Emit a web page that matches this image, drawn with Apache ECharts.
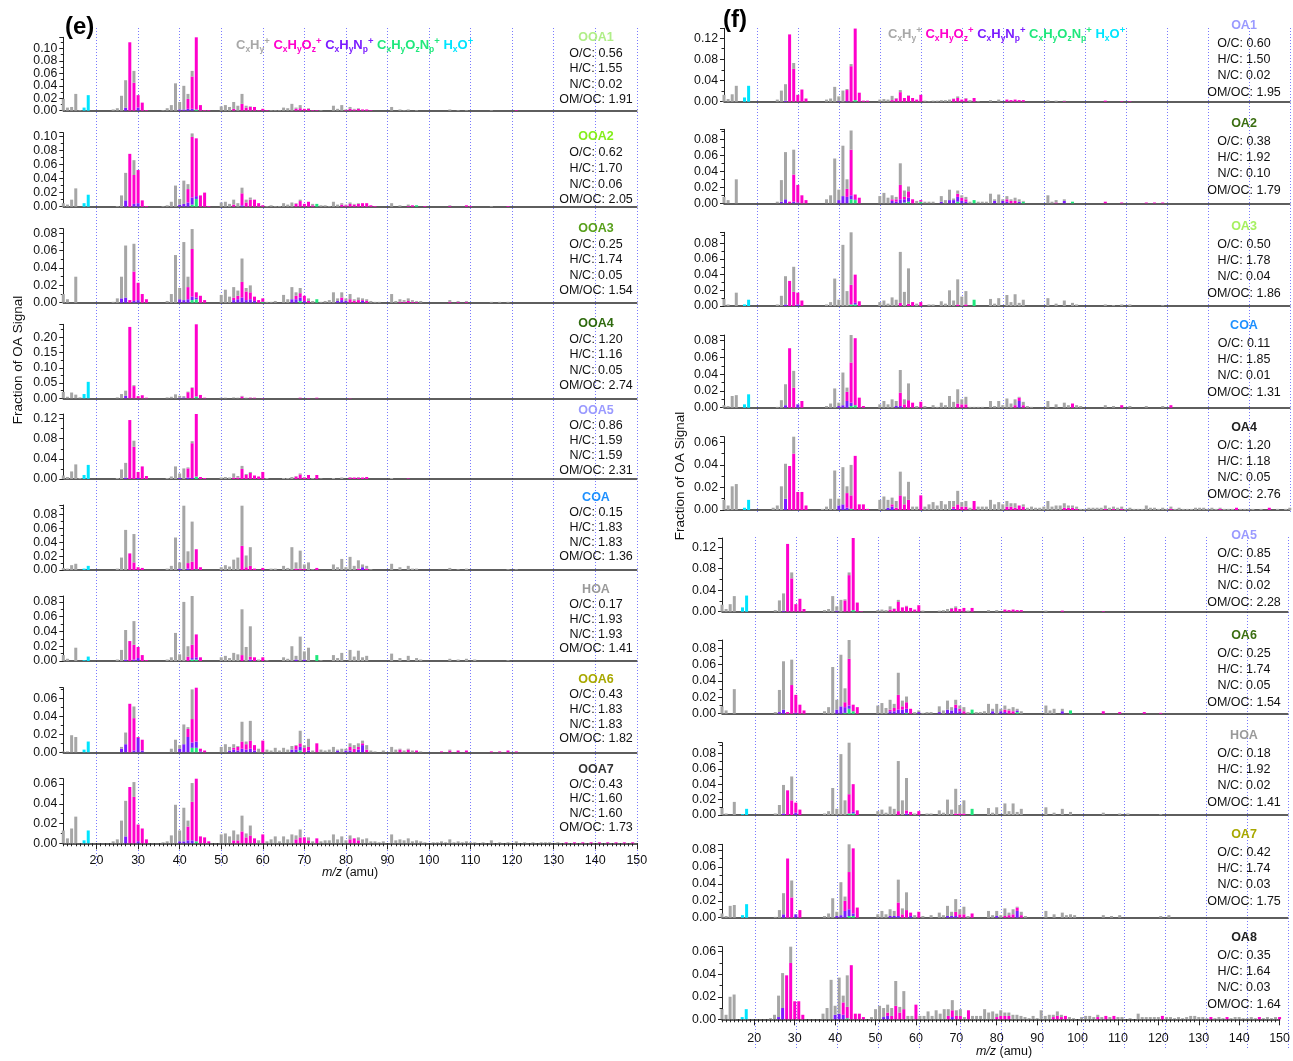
<!DOCTYPE html>
<html>
<head>
<meta charset="utf-8">
<title>HR-AMS factor mass spectra</title>
<script src="https://cdn.jsdelivr.net/npm/echarts@6.0.0/dist/echarts.min.js"></script>
<style>
  html, body { margin: 0; padding: 0; background: #ffffff; }
  #chart { width: 1293px; height: 1061px; }
</style>
</head>
<body>
<div id="chart"></div>
<script>
// ---------------------------------------------------------------------------
// Mass spectra of the PMF factors, one stacked bar per m/z.
// Row layout: [m/z, CxHy+, CxHyOz+, CxHyNp+, CxHyOzNp+, HxO+]  (missing = 0)
// ---------------------------------------------------------------------------
const MZ_MIN = 12;
const MZ_MAX = 150;
const xTickLabels = [20, 30, 40, 50, 60, 70, 80, 90, 100, 110, 120, 130, 140, 150];

// ---- panel (e) ----
const OOA1 = [[12,.019],[13,.005],[14,.006],[15,.027],[16,.001],[17,0,0,0,0,.005],[18,0,0,0,0,.025],
  [24,.002],[25,.004],[26,.024],[27,.044,0,.005],[28,0,.110],[29,.019,.045],[30,0,.020,.005],[31,0,.013],[32,0,.001],
  [36,.001],[37,.004],[38,.009],[39,.044],[40,.012,0,.002],[41,.038,0,.002],[42,.008,.016,.003],[43,.009,.052,.003],[44,0,.117,0,.002],[45,0,.009],[46,0,.001],[47,0,.001],
  [50,.007],[51,.009],[52,.006],[53,.011,.003],[54,.008],[55,.016,.011],[56,.003,.005],[57,.001,.006],[58,0,.006],[59,0,.001],[60,0,.003],[61,0,.001],[62,.001],[63,.001],[64,.001],
  [65,.005],[66,.004],[67,.011],[68,.002,.003],[69,.005,.004],[70,0,.003],[71,.001,.003],[72,0,.001],[73,0,.001],[74,.001],
  [77,.008],[78,.003],[79,.009],[80,.001,.001],[81,.003,.003],[82,.001,.002],[83,.001,.003],[84,0,.002],[85,0,.002],[86,0,.001],
  [91,.006],[93,.002],[94,.001],[95,.002],[97,.001],[105,.002],[107,.001],[109,.001],[115,.001],[121,0,.001]];

const OOA2 = [[12,.005],[13,.003],[14,.010],[15,.026],[17,0,0,0,0,.005],[18,0,0,0,0,.017],
  [25,.001],[26,.016],[27,.039,0,.009],[28,0,.075],[29,.021,.041,.004],[30,0,.047,.005],[31,0,.009],[32,0,.001],
  [36,.001],[37,.002],[38,.007],[39,.030],[40,.008,0,.003],[41,.033,0,.004],[42,.007,.019,.006],[43,.005,.086,.010,.003],[44,0,.082,.004,.011],[45,0,.016],[46,0,.020],[47,0,.001],
  [50,.006],[51,.007],[52,.004],[53,.007,.003],[54,.005],[55,.008,.017,.002],[56,.004,.006],[57,.003,.010],[58,0,.010],[59,0,.005],[60,0,.002],[61,.001],[62,.002],[63,.001],[64,.001],
  [65,.005],[66,.003],[67,.006],[68,.001,.004],[69,.002,.008],[70,0,.004],[71,0,.007],[72,.002,.002],[73,0,0,0,.004],[74,.002],[75,.002],[76,.001],
  [77,.007],[78,.003],[79,.002,.003],[80,.001,.002],[81,.002,.004],[82,.001,.003],[83,.001,.004],[84,0,.005],[85,0,.005],[86,0,.002],[87,0,.001],
  [91,.005],[93,.002],[95,.002,.001],[96,0,.002],[97,0,0,0,.002],[99,0,.001],[105,.001,.001],[109,0,.002],[110,0,.001],[115,.001],[119,0,.001]];

const OOA3 = [[12,.010],[13,.004],[15,.030],
  [24,.001],[25,.005],[26,.025,0,.005],[27,.060,0,.006],[28,0,.003],[29,.032,.034,.002],[30,0,.020,.003],[31,0,.010],[32,0,.004],
  [37,.002],[38,.010],[39,.055],[40,.013,0,.004],[41,.067,0,.003],[42,.012,.014,.004],[43,.023,.055,.004,.003],[44,0,.006,.002,.004],[45,0,.008],[46,0,.003],
  [50,.009],[51,.015],[52,.007],[53,.012,.003,.003],[54,.006,.004,.004],[55,.027,.018,.006],[56,.004,.010,.003],[57,.008,.008,.004],[58,0,.005,.002],[59,0,.003],[60,0,.004,0,.001],[61,.001],[62,.001],[63,.002],
  [65,.009],[66,.004],[67,.014,0,.004],[68,.004,.004,.004],[69,.006,.005,.004,.002],[70,0,.006,.002],[71,.003,.002],[72,.002],[73,0,0,0,.004],[74,.001],[75,.002],[76,.003],
  [77,.012],[78,.003,0,.002],[79,.006,.003,.003],[80,.003,0,.002],[81,.006,.004],[82,.002,.002],[83,.003,.003],[84,.002,.001,.002],[85,.002,.002],[86,.002],[87,.001],[88,.001],
  [91,.010],[92,.002],[93,.003,.001],[94,.002,.001],[95,.003,.002],[96,.002,.001],[97,.001,.001],[98,.002],[105,.002,.001],[107,.001,.001],[109,.001,.001],[115,.001],[117,.001],[119,.001]];

const OOA4 = [[12,.021],[13,.005],[14,.019],[15,.012],[16,.003],[17,0,0,0,0,.014],[18,0,0,0,0,.054],
  [25,.003],[26,.014],[27,.017,0,.008],[28,0,.234],[29,.003,.040],[30,0,.007],[31,0,.010],[32,0,.002],
  [37,.003],[38,.005],[39,.013],[40,.006,0,.002],[41,.004,0,.003],[42,.002,.020],[43,.002,.034],[44,0,.237,0,.006],[45,0,.011],[46,0,.002],
  [50,.002],[51,.002],[53,.003],[54,.002],[55,.002,.006],[56,.002],[57,.001,.002],[58,0,.002],[60,0,.001],
  [69,0,.002],[71,0,.001],[73,0,.002],[81,0,.001]];

const OOA5 = [[12,.007],[13,.004],[14,.015],[15,.029],[16,.002],[17,0,0,0,0,.008],[18,0,0,0,0,.028],
  [25,.002],[26,.019],[27,.029,0,.003],[28,0,.117],[29,.012,.064],[30,0,.012,.002],[31,0,.025],[32,0,.006],
  [37,.002],[38,.005],[39,.025],[40,.009,0,.002],[41,.021],[42,.002,.018,.003],[43,.004,.069,.002],[44,0,.125,0,.005],[45,0,.004],[46,0,.002],
  [50,.003],[51,.004],[52,.003],[53,.008,.003],[54,.003,.003],[55,.006,.020],[56,.002,.008],[57,.002,.012],[58,0,.007],[59,0,.005],[60,0,.014],[61,.002],
  [65,.002],[66,.002],[67,.004],[68,.001,.005],[69,.002,.009],[70,.001,.003],[71,0,.008],[72,.002],[73,0,.008],[74,.001],
  [77,.002],[79,.003],[81,.001,.003],[82,0,.003],[83,.001,.003],[84,0,.003],[85,0,.004],[91,.002],[95,0,.001]];

const COA_E = [[12,.003],[13,.002],[14,.007],[15,.009],[17,0,0,0,0,.002],[18,0,0,0,0,.006],
  [25,.002],[26,.018],[27,.058],[28,0,.024],[29,.041,.011],[30,0,.004],[31,0,.003],
  [37,.002],[38,.006],[39,.047],[40,.009,0,.002],[41,.093],[42,.017,.008,.002],[43,.058,.012],[44,0,.029,0,.001],[45,0,.004],
  [50,.004],[51,.007],[52,.005],[53,.015],[54,.018],[55,.058,.035],[56,.017,.004],[57,.027,.006],[58,0,.002],[60,0,.003],
  [62,.002],[63,.002],[65,.006],[66,.003],[67,.033],[68,.009,.002],[69,.026,.002],[70,.006,.002],[71,.011],[72,.001],[73,0,.003],
  [77,.008],[78,.004],[79,.016],[80,.004],[81,.019],[82,.006],[83,.012,.002],[84,.004,0,.004],[85,.004,.002],[86,.001],
  [91,.009],[93,.004],[95,.006],[96,.002],[97,.002],[105,.003],[107,.001],[109,.002],[119,.001],[121,.001]];

const HOA_E = [[12,.008],[13,.003],[15,.018],[17,0,0,0,0,.001],[18,0,0,0,0,.006],
  [25,.002],[26,.015],[27,.040,0,.002],[28,0,.027],[29,.032,.020,.002],[30,0,.015,.004],[31,0,.008],[32,0,.001],
  [37,.002],[38,.005],[39,.038],[40,.009],[41,.080],[42,.014,.006],[43,.066,.018,.002,.002],[44,0,.031,.003,.002],[45,0,.005],
  [50,.005],[51,.007],[52,.004],[53,.011],[54,.009],[55,.062,.008],[56,.019],[57,.041,.004,.002],[58,0,.005],[59,.002],[60,0,.005],[61,.001],
  [65,.005],[66,.003],[67,.020],[68,.005,0,.002],[69,.033],[70,.011,0,.002],[71,.018],[73,0,0,0,.008],[74,.001],
  [77,.008],[78,.004],[79,.011],[81,.015],[82,.006],[83,.014],[84,.005],[85,.007],
  [91,.010],[93,.004],[95,.007],[97,.004],[98,.002],[105,.003],[107,.002],[109,.003],[111,.002],[119,.001]];

const OOA6 = [[12,.001],[13,.001],[14,.019],[15,.017],[17,0,0,0,0,.003],[18,0,0,0,0,.012],
  [26,.002,0,.004],[27,.013,0,.009],[28,0,.054],[29,.013,.036,.002],[30,0,.001,.016],[31,0,.012,.002],
  [38,.004],[39,.014],[40,.004,0,.004],[41,.022,0,.009],[42,.002,.009,.017],[43,.033,.026,.006,.005],[44,0,.060,.007,.005],[45,0,.003,.001],[46,0,.002],
  [50,.006],[51,.009],[52,.004,0,.002],[53,.004,.002,.003],[54,.001,.004,.002],[55,.022,.008,.004],[56,.003,.006,.003],[57,.022,.009,.004],[58,0,.006,.002],[59,.004],[60,0,.013],
  [61,.003],[62,.002],[63,.005],[64,.002],[65,.005],[66,.003],[67,.004,0,.003],[68,.001,.004,.003],[69,.014,.004,.004,.002],[70,.003,.005],[71,.009,.004,.002],[72,.002],[73,0,.010],[74,.003],[75,.002],[76,.003],
  [77,.006],[78,.001,0,.002],[79,.004],[80,.002,0,.002],[81,.004,.004,.002],[82,.004,.004],[83,.004,.003,.003],[84,.003,.002,.008],[85,.005,.003],[86,.002],[87,.001],[89,.002],
  [91,.006],[92,.003],[93,.001,.003],[94,.002],[95,.001,.003],[96,.002],[97,0,.002],[98,.001],[103,0,.001],[105,.001,.002],[107,0,.002],[109,0,.002],[115,0,.001],[117,0,.001],[119,0,.002],[121,0,.001]];

const OOA7 = [[12,.013],[13,.005],[14,.015],[15,.027],[17,0,0,0,0,.003],[18,0,0,0,0,.013],
  [24,.002],[25,.004],[26,.023],[27,.036,0,.007],[28,0,.057],[29,.015,.047],[30,0,.017,.002],[31,0,.015],[32,0,.004],
  [36,.001],[37,.002],[38,.008],[39,.039],[40,.011,0,.002],[41,.034,0,.002],[42,.006,.014,.003],[43,.019,.039,.003],[44,0,.064,0,.002],[45,0,.007],[46,0,.006],[47,0,.002],
  [50,.009],[51,.010],[52,.007],[53,.010,.003],[54,.006,.003],[55,.016,.012],[56,.004,.006],[57,.010,.008],[58,0,.005],[59,.003],[60,0,.009],
  [61,.002],[62,.004],[63,.007],[64,.002],[65,.007],[66,.004],[67,.009],[68,.004,.004],[69,.008,.006],[70,0,.006],[71,.003,.003],[72,.002],[73,0,.005],[74,.002],[75,.003],[76,.003],
  [77,.009],[78,.004],[79,.007],[80,.003],[81,.004,.004],[82,0,.005],[83,.003,.003],[84,.004],[85,.005],[86,.002],[87,.002],[88,.001],[89,.002],
  [91,.009],[92,.003],[93,.004],[94,.003],[95,.005],[96,.002],[97,.003],[98,.002],[99,.001],[101,.001],[102,.001],[103,.002],[104,.001],[105,.004],[106,.001],[107,.002],[108,.001],[109,.002],[110,.001],[111,.001],[113,.001],
  [115,.003],[117,.001],[119,.001],[121,.002],[123,.001],[125,.001],[127,.001],[128,.001],[129,.001],[131,.001],[133,0,.001],[135,0,.001],[137,0,.001],[139,0,.001],[141,0,.001],[143,0,.001],[145,0,.001],[147,0,.001],[149,0,.001]];

// ---- panel (f) ----
const OA1 = [[12,.013],[13,.005],[14,.014],[15,.030],[17,0,0,0,0,.008],[18,0,0,0,0,.030],
  [25,.004],[26,.021],[27,.031,0,.002],[28,0,.127],[29,.011,.062],[30,0,.013],[31,0,.023],[32,0,.006],
  [37,.004],[38,.006],[39,.028],[40,.009,0,.001],[41,.021],[42,.002,.021,.001],[43,.004,.067],[44,0,.135,0,.003],[45,0,.017],[46,0,.002],[47,0,.002],
  [50,.004],[51,.005],[52,.004],[53,.008,.003],[54,.001,.006],[55,.004,.018],[56,0,.007],[57,.001,.011],[58,0,.007],[59,0,.004],[60,0,.013],[61,.002],[62,.001],[63,.002],[64,.002],
  [65,.003],[66,.003],[67,.004],[68,.001,.005],[69,.003,.007],[70,0,.004],[71,.001,.006],[72,.003],[73,0,.007],[74,.001],
  [77,.003],[79,.004],[81,0,.004],[82,0,.003],[83,0,.004],[84,0,.003],[85,0,.003],[91,.003],[93,.002],[95,.001,.001],[105,0,.002],[109,0,.001],[111,0,.001]];

const OA2 = [[12,.008],[13,.004],[15,.030],
  [25,.002],[26,.027,0,.002],[27,.059,0,.005],[28,0,.002],[29,.031,.034,.002],[30,0,.022,.001],[31,0,.010],[32,0,.004],
  [37,.005],[38,.010],[39,.056],[40,.013,0,.004],[41,.063,0,.009],[42,.012,.010,.008],[43,.024,.057,.005,.005],[44,0,.006,.001,.004],[45,0,.007],
  [50,.009],[51,.013],[52,.007],[53,.005,.002,.003],[54,.003,.003,.002],[55,.027,.018,.005],[56,.008,.003,.004,.001],[57,.006,.008,.005,.002],[58,0,.005],[59,.003],[60,0,.002,0,.002],
  [61,.002],[62,.002],[63,.002],[65,.007,0,.002],[66,.004],[67,.013,0,.004],[68,.002,0,.004],[69,.004,.004,.006,.002],[70,.003,.004,.003],[71,.003,.003,.002],[72,.002],[73,0,0,0,.004],[74,.002],[75,.002],[76,.002],
  [77,.012],[78,.002,0,.003],[79,.011],[80,.002,0,.003],[81,.004,.003,.002],[82,.002,.003],[83,.004,.003],[84,.003,0,.002],[85,.001,0,0,.002],
  [91,.010],[92,.002],[93,.003,.001],[95,.002,0,.003],[97,0,0,0,.002],[105,0,.002],[109,0,.001],[115,0,.001],[117,0,.001],[119,0,.001]];

const OA3 = [[12,.009],[13,.002],[15,.017],[17,0,0,0,0,.002],[18,0,0,0,0,.008],
  [25,.002],[26,.013],[27,.036,0,.002],[28,0,.032],[29,.032,.018],[30,0,.015,.002],[31,0,.007],
  [37,.002],[38,.005],[39,.035],[40,.008],[41,.078],[42,.019],[43,.067,.025,0,.002],[44,0,.036,.002,.002],[45,0,.006],
  [50,.005],[51,.007],[52,.003],[53,.011],[54,.008],[55,.065,.004],[56,.018],[57,.045,.003],[58,0,.005],[59,.003],[60,0,.005],
  [62,.002],[63,.002],[65,.006],[66,.003],[67,.020],[68,.007],[69,.032,.002],[70,.012],[71,.017,.002],[73,0,0,0,.008],
  [77,.009],[78,.003],[79,.010],[81,.014],[82,.005],[83,.015],[84,.004],[85,.008],
  [91,.010],[93,.003],[95,.007],[97,.004],[98,.002],[105,.002],[107,.001],[109,.002],[111,.002],[119,.001]];

const COA_F = [[12,.003],[13,.002],[14,.014],[15,.015],[17,0,0,0,0,.004],[18,0,0,0,0,.016],
  [25,.001],[26,.009],[27,.025,0,.003],[28,0,.071],[29,.020,.024],[30,0,0,.004],[31,0,.008],
  [37,.002],[38,.005],[39,.023],[40,.004,0,.002],[41,.039,0,.003],[42,.005,.011,.008],[43,.033,.048,.004,.002],[44,0,.080,0,.003],[45,0,.012],[46,0,.002],
  [50,.004],[51,.008],[52,.004],[53,.010],[54,.006,0,.002],[55,.027,.016,.002],[56,.006,.004],[57,.020,.009],[58,0,.006],[59,.002],[60,0,.007],
  [61,.002],[63,.003],[64,.001],[65,.006],[66,.003],[67,.014],[68,.007],[69,.017,.005],[70,.006,.004],[71,.009,.004],[72,.001],[73,.001],[74,.001],[75,.001],
  [77,.008],[78,.002],[79,.008],[80,.003],[81,.011],[82,.005],[83,.007,.003],[84,.001,.004,.008],[85,.004,.003],[86,.002],[87,.001],
  [91,.008],[93,.004],[95,.006],[96,.003],[97,0,.005],[98,.003],[99,.002],[105,.003],[107,.002],[109,0,.003],[111,.002],[115,.002],[119,.002],[121,0,.003]];

const OA4 = [[12,.009],[13,.004],[14,.021],[15,.023],[17,0,0,0,0,.002],[18,0,0,0,0,.009],
  [24,.002],[25,.004],[26,.021],[27,.031,0,.010],[28,0,.039],[29,.015,.050],[30,0,.016],[31,0,.016],[32,0,.004],
  [36,.001],[37,.003],[38,.010],[39,.035],[40,.006,0,.004],[41,.033,0,.005],[42,.006,.013,.002],[43,.027,.012,0,.001],[44,0,.048],[45,0,.005],[46,0,.005],[47,0,.001],
  [50,.009],[51,.012],[52,.007,0,.002],[53,.006,.002,.003],[54,.006,.002],[55,.021,.013],[56,.007,.005],[57,.016,.009],[58,.003],[59,.003],[60,0,.013],
  [61,.003],[62,.005],[63,.007],[64,.004],[65,.008],[66,.005],[67,.008],[68,.005,.002,.001],[69,.012,.005],[70,.004,.003],[71,.005,.003],[72,.002],[73,0,.008],[74,.003],[75,.003],[76,.003],
  [77,.009],[78,.005],[79,.007],[80,.005],[81,.005,.003],[82,.003,.003],[83,.004,.002],[84,0,.004],[85,.002,.003],[86,.002],[87,.003],[88,.002],[89,.002],[90,.003],
  [91,.008],[92,.003],[93,.004],[94,.004],[95,.004,.002],[96,.002,.002],[97,.002,.002],[98,.002,.001],[99,.001],[100,.001],[101,.002],[102,.002],[103,.002],[104,.002],[105,.003,.001],[106,.002],[107,.002,.001],[108,.002],[109,.002,.001],[110,.001],
  [111,.002],[112,.001],[113,.001],[114,.001],[115,.004],[116,.002],[117,.002],[118,.001],[119,.002],[120,.001],[121,.002,.001],[122,.001],[123,.002],[124,.001],[125,.001],[126,.001],[127,.002],[128,.002],[129,.002],[130,.001],
  [131,.002],[132,.001],[133,.001,.001],[134,.001],[135,.001],[136,.001],[137,0,.002],[138,.001],[139,.001],[140,.001],[141,.001],[143,.001],[145,0,.002],[147,.001],[149,.001],[150,.002]];

const OA5 = [[12,.013],[13,.005],[14,.014],[15,.029],[17,0,0,0,0,.008],[18,0,0,0,0,.030],
  [25,.003],[26,.021],[27,.032,0,.002],[28,0,.126],[29,.011,.062],[30,0,.014],[31,0,.024],[32,0,.005],
  [37,.003],[38,.005],[39,.029],[40,.008,0,.002],[41,.022],[42,.002,.021],[43,.005,.068],[44,0,.135,0,.003],[45,0,.017],[46,0,.001],
  [50,.003],[51,.004],[52,.003],[53,.006,.004],[54,.001,.005],[55,.004,.018],[56,0,.008],[57,.001,.010],[58,0,.007],[59,0,.004],[60,0,.012],[61,.002],
  [65,.002],[66,.003],[67,.005],[68,.002,.005],[69,.003,.007],[70,0,.005],[71,0,.007],[72,.002],[73,0,.007],
  [77,.003],[79,.003],[81,0,.004],[82,0,.003],[83,0,.004],[84,0,.003],[85,0,.003],[91,.002],[95,0,.002],[105,0,.001]];

const OA6 = [[12,.009],[13,.004],[15,.030],
  [25,.002],[26,.027,0,.002],[27,.059,0,.005],[28,0,.002],[29,.031,.035],[30,0,.022,.001],[31,0,.011],[32,0,.004],
  [37,.003],[38,.008],[39,.057],[40,.012,0,.005],[41,.063,0,.009],[42,.017,.006,.007,.001],[43,.023,.057,.004,.006],[44,0,.008,0,.003],[45,0,.008],
  [50,.010],[51,.013],[52,.007],[53,.012,.002,.003],[54,.005,.004,.003],[55,.027,.018,.005],[56,.007,.004,.005],[57,.007,.008,.005,.001],[58,0,.006],[59,.002],[60,.002,0,.002],
  [61,.001],[62,.002],[63,.002],[65,.007,0,.002],[66,.004],[67,.011,0,.005],[68,.004,0,.004],[69,.006,.004,.007],[70,.004,.003,.003],[71,.005,.003],[72,.002],[73,0,0,0,.005],[74,.002],[75,.002],[76,.003],
  [77,.012],[78,.003,0,.003],[79,.012],[80,.003,0,.003],[81,.005,.003,.002],[82,.002,.004],[83,.005,.003],[84,.002,0,.002,.002],[85,.003],
  [91,.010],[92,.004],[93,.006],[95,.003,0,.003],[97,0,0,0,.004],[105,0,.003],[109,0,.002],[115,0,.002],[119,0,.001]];

const HOA_F = [[12,.009],[13,.002],[15,.017],[17,0,0,0,0,.001],[18,0,0,0,0,.008],
  [25,.002],[26,.013],[27,.037,0,.002],[28,0,.032],[29,.031,.019],[30,0,.013,.003],[31,0,.007],
  [37,.002],[38,.005],[39,.035],[40,.008],[41,.079],[42,.019],[43,.068,.025,0,.002],[44,0,.036,.002,.002],[45,0,.006],
  [50,.005],[51,.007],[52,.003],[53,.011],[54,.008],[55,.065,.005],[56,.019],[57,.042,.004,.002],[58,0,.004],[59,.002],[60,0,.005],
  [62,.002],[63,.002],[65,.006],[66,.003],[67,.020],[68,.007],[69,.032,.002],[70,.011,.002],[71,.017,.002],[73,0,0,0,.008],
  [77,.009],[78,.003],[79,.010],[81,.015],[82,.005],[83,.015],[84,.004],[85,.008],
  [91,.010],[93,.003],[95,.008],[97,.004],[105,.003],[109,.002],[111,.002],[119,.001]];

const OA7 = [[12,.005],[13,.002],[14,.014],[15,.015],[17,0,0,0,0,.003],[18,0,0,0,0,.016],
  [25,.001],[26,.009],[27,.025,0,.004],[28,0,.070],[29,.020,.024],[30,0,0,.004],[31,0,.009],
  [37,.002],[38,.005],[39,.023],[40,.005,0,.002],[41,.039,0,.003],[42,.005,.012,.008],[43,.033,.044,.008,.002],[44,0,.077,.003,.002],[45,0,.012],
  [50,.004],[51,.008],[52,.004],[53,.008,0,.002],[54,.006,0,.002],[55,.027,.016,.002],[56,.007,.004],[57,.021,.009],[58,0,.004,.002],[59,.003],[60,0,.007],
  [61,.002],[63,.003],[65,.006],[66,.003],[67,.012,0,.002],[68,.005,0,.002],[69,.015,.005,.002],[70,.006,.004],[71,.009,.004],[72,.002],[73,0,.005],
  [77,.008],[78,.003],[79,.006,0,.002],[80,.003],[81,.009,.002],[82,.003,.003],[83,.006,.004],[84,.001,.004,.008],[85,.004,.003],[86,.002],
  [91,.008],[93,.004],[95,.006],[96,.003],[97,.004],[98,.003],[105,.003],[107,.002],[109,.003],[119,.002],[121,.003]];

const OA8 = [[12,.009],[13,.004],[14,.020],[15,.022],[17,0,0,0,0,.002],[18,0,0,0,0,.009],
  [24,.001],[25,.004],[26,.019,0,.002],[27,.031,0,.010],[28,0,.039],[29,.015,.050],[30,0,.016],[31,0,.016],[32,0,.004],
  [37,.005],[38,.010],[39,.035],[40,.008,0,.004],[41,.032,0,.005],[42,.006,.011,.004],[43,.028,.010,0,.001],[44,0,.048],[45,0,.005],[46,0,.005],[47,0,.002],
  [49,.002],[50,.009],[51,.012],[52,.008,0,.002],[53,.007,.003,.003],[54,.007,.003],[55,.022,.012],[56,.005,.006],[57,.016,.009],[58,.003],[59,.003],[60,0,.013],
  [61,.003],[62,.003],[63,.007],[64,.003],[65,.008],[66,.005],[67,.009],[68,.006,.003],[69,.009,.006,.002],[70,.005,.003],[71,.006,.003],[72,.002],[73,0,.008],[74,.003],[75,.003],[76,.003],
  [77,.009],[78,.006],[79,.007],[80,.003,.002],[81,.005,.003],[82,.003,.003],[83,.003,.003],[84,.004],[85,.004],[86,.003],[87,.002],[88,.001],[89,.003],[90,.001],
  [91,.008],[92,.003],[93,.004],[94,.002,.002],[95,.004,.003],[96,.002,.002],[97,0,.003],[98,.002],[99,.001],[101,.002],[102,.003],[103,.003],[104,.002],[105,.002,.002],[106,.002],[107,0,.003],[108,.002],[109,0,.003],[110,.002],
  [111,.002],[113,.001],[115,.005],[116,.002],[117,.002],[118,.002],[119,.002],[120,.002],[121,0,.003],[122,.002],[123,.002],[124,.001],[125,.002],[126,.001],[127,.002],[128,.003],[129,.003],[130,.002],
  [131,.002],[132,.001],[133,0,.002],[134,.001],[135,.002],[136,.001],[137,0,.002],[138,.001],[139,.002],[140,.002],[141,.001],[142,.001],[143,.002],[144,.001],[145,0,.002],[146,.001],[147,.002],[148,.001],[149,.002],[150,0,.002]];

// ---- factor labels ----
const namesE = ['OOA1', 'OOA2', 'OOA3', 'OOA4', 'OOA5', 'COA', 'HOA', 'OOA6', 'OOA7'];
const ocE    = ['0.56', '0.62', '0.25', '1.20', '0.86', '0.15', '0.17', '0.43', '0.43'];
const hcE    = ['1.55', '1.70', '1.74', '1.16', '1.59', '1.83', '1.93', '1.83', '1.60'];
const ncE    = ['0.02', '0.06', '0.05', '0.05', '1.59', '1.83', '1.93', '1.83', '1.60'];
const omocE  = ['1.91', '2.05', '1.54', '2.74', '2.31', '1.36', '1.41', '1.82', '1.73'];

const namesF = ['OA1', 'OA2', 'OA3', 'COA', 'OA4', 'OA5', 'OA6', 'HOA', 'OA7', 'OA8'];
const ocF    = ['0.60', '0.38', '0.50', '0.11', '1.20', '0.85', '0.25', '0.18', '0.42', '0.35'];
const hcF    = ['1.50', '1.92', '1.78', '1.85', '1.18', '1.54', '1.74', '1.92', '1.74', '1.64'];
const ncF    = ['0.02', '0.10', '0.04', '0.01', '0.05', '0.02', '0.05', '0.02', '0.03', '0.03'];
const omocF  = ['1.95', '1.79', '1.86', '1.31', '2.76', '2.28', '1.54', '1.41', '1.75', '1.64'];

const spectraE = [OOA1, OOA2, OOA3, OOA4, OOA5, COA_E, HOA_E, OOA6, OOA7];
const spectraF = [OA1, OA2, OA3, COA_F, OA4, OA5, OA6, HOA_F, OA7, OA8];

// ---------------------------------------------------------------------------
// Styling and layout
// ---------------------------------------------------------------------------
const FONT = '"Liberation Sans", Arial, Helvetica, sans-serif';
const familyColors = {
  CxHy: '#a6a6a6', CxHyOz: '#ff00cc', CxHyNp: '#7b1cff', CxHyOzNp: '#1fe87c', HxO: '#00e5ff'
};
// bottom-to-top stacking order and the row column holding each family
const stackOrder = [['HxO', 5], ['CxHyOzNp', 4], ['CxHyNp', 3], ['CxHyOz', 2], ['CxHy', 1]];

const titleColorsE = ['#b0ee88', '#84ee1c', '#58a01c', '#2e6a0e', '#9a9aff', '#1e90ff', '#9a9a9a', '#a8a800', '#333333'];
const titleColorsF = ['#9a9aff', '#3b6e12', '#a6f060', '#1e90ff', '#222222', '#9a9aff', '#3b6e12', '#9a9a9a', '#a8a800', '#222222'];

// [top px, zero-line px, y max, y tick step]
const boxesE = [
  [37.3, 110.7, 0.118, 0.02], [132.7, 206.7, 0.105, 0.02], [228.7, 302.7, 0.0854, 0.02],
  [324.3, 398.3, 0.2426, 0.05], [414, 479, 0.129, 0.04], [505, 570, 0.094, 0.02],
  [596, 661, 0.088, 0.02], [687.7, 752.3, 0.0719, 0.02], [778.7, 843.3, 0.0654, 0.02]
];
const boxesF = [
  [28.3, 101.7, 0.1385, 0.04], [129.3, 203.3, 0.0925, 0.02], [232.3, 306, 0.094, 0.02],
  [335, 407.7, 0.0868, 0.02], [436.7, 510, 0.065, 0.02], [538, 611.7, 0.137, 0.04],
  [640, 713.7, 0.090, 0.02], [742.7, 815, 0.0938, 0.02], [844.3, 917.7, 0.0868, 0.02],
  [946.7, 1019.3, 0.0644, 0.02]
];
const leftE = 63.3, stepE = 4.156;
const leftF = [724, 724, 724, 724, 724, 722, 722, 722, 722, 722], stepF = 4.1;

const titleYE = [38, 137, 229, 324, 411, 498, 590, 680, 770];
const lineStepE = [15.5, 15.7, 15.5, 15.5, 15, 14.7, 14.7, 14.7, 14.5];
const titleYF = [26, 124, 227, 326, 428, 536, 636, 736, 835, 938];

// ---------------------------------------------------------------------------
const mzCategories = [];
for (let m = MZ_MIN; m <= MZ_MAX; m++) mzCategories.push(m);
const nGaps = mzCategories.length - 1;
const isMajor = (idx) => xTickLabels.indexOf(mzCategories[idx]) >= 0;

function column(rows, col) {
  const out = mzCategories.map(() => 0);
  rows.forEach(r => {
    const v = r[col] || 0;
    if (v) out[r[0] - MZ_MIN] = v;
  });
  return out;
}

const grids = [], xAxes = [], yAxes = [], series = [], graphics = [];

function addGuideGrid(left, step, top, bottom) {
  const gi = grids.length;
  grids.push({ left: left, top: top, width: step * nGaps, height: bottom - top });
  xAxes.push({
    type: 'category', gridIndex: gi, data: mzCategories, boundaryGap: false,
    axisLine: { show: false }, axisTick: { show: false }, axisLabel: { show: false },
    splitLine: { show: true, interval: isMajor, lineStyle: { color: '#6b6bff', type: [1, 2], width: 1, opacity: 0.9 } }
  });
  yAxes.push({ type: 'value', gridIndex: gi, show: false, min: 0, max: 1 });
}

function addSubplot(rows, box, left, step, isBottom, labelMargin) {
  const gi = grids.length;
  const [top, base, yMax, yStep] = box;
  grids.push({ left: left, top: top, width: step * nGaps, height: base - top });
  const xi = xAxes.length;
  const catAxisBase = {
    type: 'category', gridIndex: gi, data: mzCategories, boundaryGap: false, position: 'bottom'
  };
  xAxes.push(Object.assign({}, catAxisBase, {
    axisLine: { show: true, lineStyle: { color: '#2a2a2a', width: 1.5 } },
    axisTick: { show: isBottom, interval: 0, length: 3, lineStyle: { color: '#222', width: 1 } },
    axisLabel: { show: false }, splitLine: { show: false }
  }));
  if (isBottom) {
    xAxes.push(Object.assign({}, catAxisBase, {
      axisLine: { show: false },
      axisTick: { show: true, interval: isMajor, length: 6, lineStyle: { color: '#222', width: 1 } },
      axisLabel: { show: true, interval: isMajor, fontFamily: FONT, fontSize: 12.5, color: '#111', margin: labelMargin },
      splitLine: { show: false }
    }));
  }
  yAxes.push({
    type: 'value', gridIndex: gi, min: 0, max: yMax, interval: yStep,
    axisLine: { show: true, lineStyle: { color: '#222', width: 1 } },
    axisTick: { show: true, length: 4, lineStyle: { color: '#222' } },
    minorTick: { show: true, splitNumber: 2, length: 2.5, lineStyle: { color: '#222' } },
    splitLine: { show: false },
    axisLabel: {
      showMinLabel: true, showMaxLabel: false, hideOverlap: false,
      fontFamily: FONT, fontSize: 12.3, lineHeight: 10, color: '#111', margin: 6,
      formatter: v => v.toFixed(2)
    }
  });
  stackOrder.forEach(([fam, col]) => {
    series.push({
      type: 'bar', name: fam, xAxisIndex: xi, yAxisIndex: gi, stack: 'stack' + gi,
      data: column(rows, col), barWidth: 3, silent: true, animation: false,
      itemStyle: { color: familyColors[fam] }
    });
  });
}

function addTextBlock(x, y0, gap0, step, name, color, oc, hc, nc, omoc) {
  graphics.push({
    type: 'text', x: x, y: y0, z: 20, silent: true,
    style: { text: name, fill: color, fontFamily: FONT, fontSize: 12.5, fontWeight: 'bold',
             align: 'center', verticalAlign: 'middle', textAlign: 'center', textVerticalAlign: 'middle' }
  });
  ['O/C: ' + oc, 'H/C: ' + hc, 'N/C: ' + nc, 'OM/OC: ' + omoc].forEach((t, k) => {
    graphics.push({
      type: 'text', x: x, y: y0 + gap0 + k * step, z: 20, silent: true,
      style: { text: t, fill: '#111', fontFamily: FONT, fontSize: 12.5,
               align: 'center', verticalAlign: 'middle', textAlign: 'center', textVerticalAlign: 'middle' }
    });
  });
}

// dotted m/z guide lines behind each panel
addGuideGrid(leftE, stepE, 28, 868);
addGuideGrid(leftF[0], stepF, 28, 514);
addGuideGrid(leftF[9], stepF, 537, 1050);

spectraE.forEach((rows, i) => {
  addSubplot(rows, boxesE[i], leftE, stepE, i === spectraE.length - 1, 11);
  addTextBlock(596, titleYE[i], lineStepE[i], lineStepE[i], namesE[i], titleColorsE[i], ocE[i], hcE[i], ncE[i], omocE[i]);
});
spectraF.forEach((rows, i) => {
  addSubplot(rows, boxesF[i], leftF[i], stepF, i === spectraF.length - 1, 13);
  addTextBlock(1244, titleYF[i], 17.3, 16.3, namesF[i], titleColorsF[i], ocF[i], hcF[i], ncF[i], omocF[i]);
});

// ---- family key with sub/superscripts ----
function keyRich() {
  const main = { fontFamily: FONT, fontSize: 13, fontWeight: 'bold', lineHeight: 18, verticalAlign: 'middle' };
  const sub = { fontFamily: FONT, fontSize: 8.5, fontWeight: 'bold', lineHeight: 8, verticalAlign: 'bottom' };
  const sup = { fontFamily: FONT, fontSize: 9.5, fontWeight: 'bold', lineHeight: 9, verticalAlign: 'top' };
  const rich = { sp: Object.assign({}, main, { fill: '#fff', color: '#fff' }) };
  const keys = { g: '#a8a8a8', m: familyColors.CxHyOz, p: familyColors.CxHyNp, n: familyColors.CxHyOzNp, w: familyColors.HxO };
  Object.keys(keys).forEach(k => {
    const c = keys[k];
    rich[k] = Object.assign({}, main, { fill: c, color: c });
    rich[k + 's'] = Object.assign({}, sub, { fill: c, color: c });
    rich[k + 'p'] = Object.assign({}, sup, { fill: c, color: c });
  });
  return rich;
}
const keyText =
  '{g|C}{gs|x}{g|H}{gs|y}{gp|+}{sp| }' +
  '{m|C}{ms|x}{m|H}{ms|y}{m|O}{ms|z}{mp|+}{sp| }' +
  '{p|C}{ps|x}{p|H}{ps|y}{p|N}{ps|p}{pp|+}{sp| }' +
  '{n|C}{ns|x}{n|H}{ns|y}{n|O}{ns|z}{n|N}{ns|p}{np|+}{sp| }' +
  '{w|H}{ws|x}{w|O}{wp|+}';
[[236, 45], [888, 34]].forEach(([x, y]) => {
  graphics.push({
    type: 'text', x: x, y: y, z: 20, silent: true,
    style: { text: keyText, rich: keyRich(), align: 'left', verticalAlign: 'middle',
             textAlign: 'left', textVerticalAlign: 'middle' }
  });
});

// ---- panel letters, axis titles ----
[['(e)', 65, 27], ['(f)', 723, 20]].forEach(([t, x, y]) => {
  graphics.push({
    type: 'text', x: x, y: y, z: 20, silent: true,
    style: { text: t, fill: '#000', fontFamily: FONT, fontSize: 24, fontWeight: 'bold',
             align: 'left', verticalAlign: 'middle', textAlign: 'left', textVerticalAlign: 'middle' }
  });
});
[[18, 360], [680, 476]].forEach(([x, y]) => {
  graphics.push({
    type: 'text', x: x, y: y, rotation: Math.PI / 2, z: 20, silent: true,
    style: { text: 'Fraction of OA Signal', fill: '#111', fontFamily: FONT, fontSize: 13.5,
             align: 'center', verticalAlign: 'middle', textAlign: 'center', textVerticalAlign: 'middle' }
  });
});
[[350, 873], [1004, 1052]].forEach(([x, y]) => {
  graphics.push({
    type: 'text', x: x, y: y, z: 20, silent: true,
    style: {
      text: '{i|m/z} (amu)', fill: '#111', fontFamily: FONT, fontSize: 12.5,
      rich: { i: { fontFamily: FONT, fontSize: 12.5, fontStyle: 'italic', fill: '#111', color: '#111' } },
      align: 'center', verticalAlign: 'middle', textAlign: 'center', textVerticalAlign: 'middle'
    }
  });
});

const chart = echarts.init(document.getElementById('chart'), null, { renderer: 'canvas' });
chart.setOption({
  animation: false,
  backgroundColor: '#ffffff',
  grid: grids,
  xAxis: xAxes,
  yAxis: yAxes,
  series: series,
  graphic: { elements: graphics }
});
</script>
</body>
</html>
